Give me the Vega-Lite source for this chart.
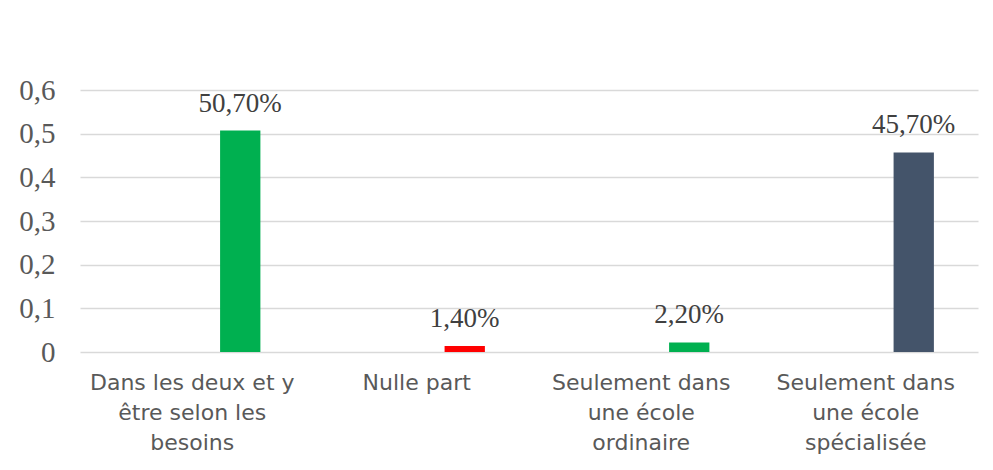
{
  "$schema": "https://vega.github.io/schema/vega-lite/v6.json",
  "width": 898,
  "height": 262,
  "autosize": {"type": "none"},
  "padding": {"left": 80, "top": 90, "right": 15, "bottom": 118},
  "background": "white",
  "config": {
    "view": {"stroke": null},
    "locale": {"number": {"decimal": ",", "thousands": " ", "grouping": [3], "currency": ["", " €"]}}
  },
  "data": {
    "values": [
      {"lieu": "Dans les deux et y être selon les besoins", "serie": "valeur", "part": 0.507},
      {"lieu": "Nulle part", "serie": "valeur", "part": 0.014},
      {"lieu": "Seulement dans une école ordinaire", "serie": "valeur", "part": 0.022},
      {"lieu": "Seulement dans une école spécialisée", "serie": "valeur", "part": 0.457}
    ]
  },
  "encoding": {
    "x": {
      "field": "lieu", "type": "nominal", "sort": null,
      "scale": {"paddingInner": 0.145, "paddingOuter": 0.0725},
      "axis": {
        "title": null, "domain": false, "ticks": false, "labelAngle": 0, "labelLimit": 0,
        "labelFont": "DejaVu Sans", "labelFontSize": 22, "labelColor": "#595959",
        "labelPadding": 20, "labelLineHeight": 30, "labelBaseline": "top",
        "labelExpr": "datum.label == 'Dans les deux et y être selon les besoins' ? ['Dans les deux et y', 'être selon les', 'besoins'] : datum.label == 'Seulement dans une école ordinaire' ? ['Seulement dans', 'une école', 'ordinaire'] : datum.label == 'Seulement dans une école spécialisée' ? ['Seulement dans', 'une école', 'spécialisée'] : datum.label"
      }
    },
    "xOffset": {"field": "serie", "type": "nominal", "scale": {"domain": ["vide", "valeur"], "paddingInner": 0.58, "paddingOuter": 0.29}},
    "y": {
      "field": "part", "type": "quantitative",
      "scale": {"domain": [0, 0.6], "nice": false},
      "axis": {
        "title": null, "domain": false, "ticks": false, "values": [0, 0.1, 0.2, 0.3, 0.4, 0.5, 0.6],
        "labelOverlap": false, "labelBound": false, "labelFlush": false,
        "format": ".1~f", "labelFont": "Liberation Serif", "labelFontSize": 29, "labelColor": "#595959",
        "labelPadding": 25, "gridColor": "#d9d9d9", "gridWidth": 1.5
      }
    }
  },
  "layer": [
    {
      "mark": {"type": "bar"},
      "encoding": {
        "color": {
          "field": "lieu", "type": "nominal", "legend": null,
          "scale": {
            "domain": ["Dans les deux et y être selon les besoins", "Nulle part", "Seulement dans une école ordinaire", "Seulement dans une école spécialisée"],
            "range": ["#00B050", "#FF0000", "#00B050", "#44546A"]
          }
        }
      }
    },
    {
      "mark": {"type": "text", "font": "Liberation Serif", "fontSize": 27, "color": "#404040", "baseline": "alphabetic", "dy": -19},
      "encoding": {
        "text": {"field": "part", "type": "quantitative", "format": ".2%"}
      }
    }
  ]
}
